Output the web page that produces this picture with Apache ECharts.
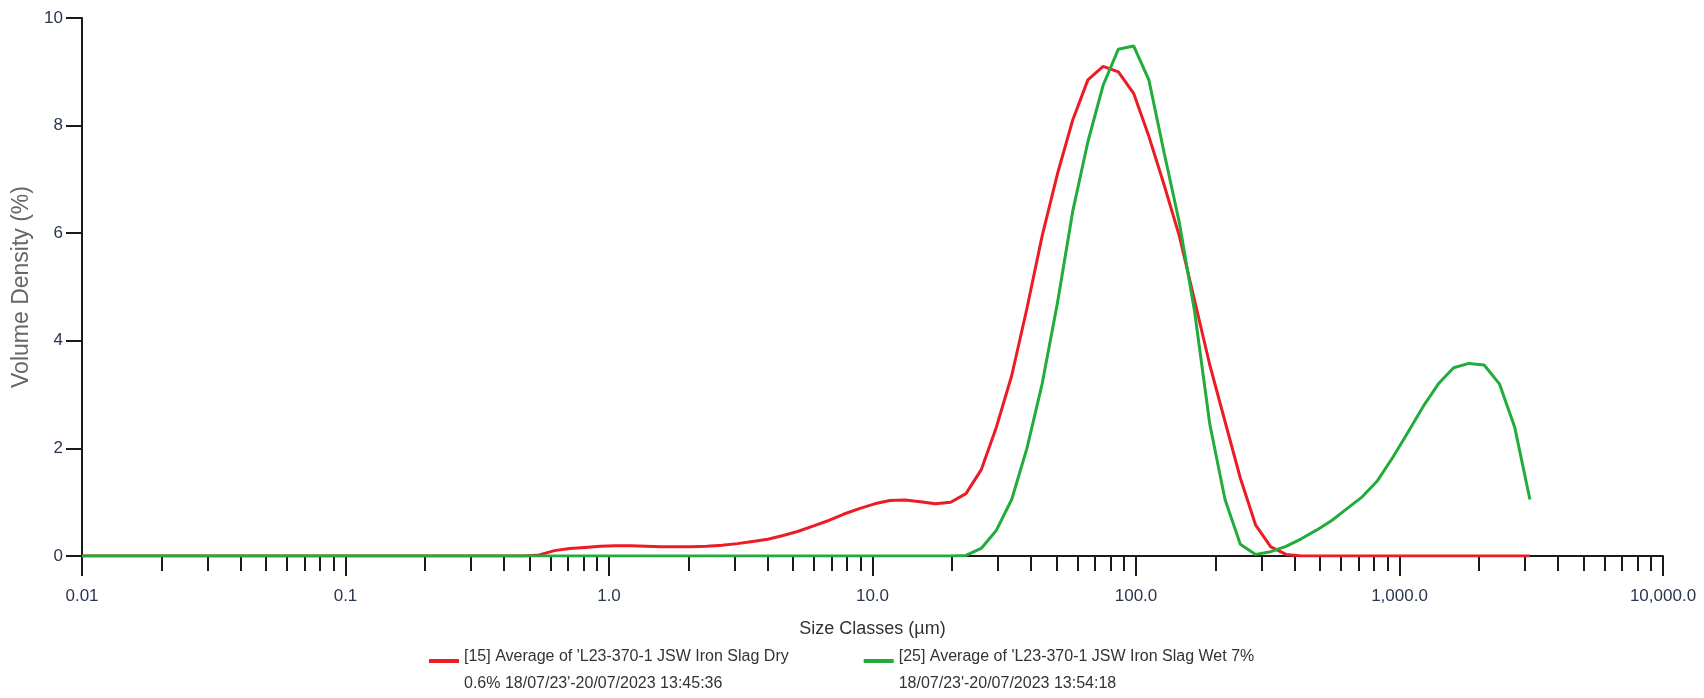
<!DOCTYPE html>
<html>
<head>
<meta charset="utf-8">
<script src="https://cdn.jsdelivr.net/npm/echarts@6/dist/echarts.min.js"></script>
<style>
  html, body { margin: 0; padding: 0; background: #fff; }
  #chart { width: 1704px; height: 698px; }
</style>
</head>
<body>
<div id="chart"></div>
<script>
// size classes (µm)
const sizeClasses = [
  0.01, 0.01143, 0.01306, 0.01492, 0.01704, 0.01947, 0.02224, 0.02541, 0.02903, 0.03317,
  0.03789, 0.04329, 0.04945, 0.0565, 0.06454, 0.07374, 0.08424, 0.09624, 0.11, 0.1256,
  0.1435, 0.1639, 0.1873, 0.214, 0.2445, 0.2793, 0.3191, 0.3645, 0.4164, 0.4758,
  0.5435, 0.621, 0.7095, 0.8105, 0.926, 1.058, 1.209, 1.381, 1.578, 1.802,
  2.059, 2.352, 2.687, 3.07, 3.508, 4.007, 4.578, 5.23, 5.975, 6.826,
  7.799, 8.91, 10.18, 11.63, 13.28, 15.17, 17.34, 19.81, 22.63, 25.85,
  29.54, 33.74, 38.55, 44.04, 50.32, 57.49, 65.68, 75.04, 85.73, 97.94,
  111.9, 127.8, 146.0, 166.8, 190.6, 217.7, 248.8, 284.2, 324.7, 371.0,
  423.8, 484.2, 553.2, 632.0, 722.0, 824.9, 942.5, 1077, 1230, 1405,
  1605, 1834, 2095, 2394, 2735, 3125
]

// volume density (%)
const dryValues = [
  0, 0, 0, 0, 0, 0, 0, 0, 0, 0,
  0, 0, 0, 0, 0, 0, 0, 0, 0, 0,
  0, 0, 0, 0, 0, 0, 0, 0, 0, 0,
  0.02, 0.1, 0.14, 0.16, 0.18, 0.19, 0.19, 0.18, 0.17, 0.17,
  0.17, 0.18, 0.2, 0.23, 0.27, 0.31, 0.38, 0.46, 0.56, 0.66,
  0.78, 0.88, 0.97, 1.03, 1.04, 1.01, 0.97, 1.0, 1.16, 1.6,
  2.4, 3.35, 4.6, 5.95, 7.1, 8.1, 8.85, 9.1, 9.0, 8.6,
  7.8, 6.9, 5.95, 4.75, 3.55, 2.5, 1.45, 0.58, 0.17, 0.03,
  0, 0, 0, 0, 0, 0, 0, 0, 0, 0,
  0, 0, 0, 0, 0, 0
]

const wetValues = [
  0, 0, 0, 0, 0, 0, 0, 0, 0, 0,
  0, 0, 0, 0, 0, 0, 0, 0, 0, 0,
  0, 0, 0, 0, 0, 0, 0, 0, 0, 0,
  0, 0, 0, 0, 0, 0, 0, 0, 0, 0,
  0, 0, 0, 0, 0, 0, 0, 0, 0, 0,
  0, 0, 0, 0, 0, 0, 0, 0, 0.01, 0.14,
  0.48, 1.05, 2.0, 3.2, 4.7, 6.4, 7.7, 8.75, 9.42, 9.48,
  8.85, 7.5, 6.2, 4.55, 2.45, 1.05, 0.22, 0.03, 0.08, 0.18,
  0.32, 0.48, 0.66, 0.88, 1.1, 1.4, 1.83, 2.3, 2.78, 3.2,
  3.5, 3.58, 3.55, 3.2, 2.4, 1.05
]

const seriesNames = [
  "[15] Average of 'L23-370-1 JSW Iron Slag Dry\n0.6% 18/07/23'-20/07/2023 13:45:36",
  "[25] Average of 'L23-370-1 JSW Iron Slag Wet 7%\n18/07/23'-20/07/2023 13:54:18",
]
const seriesColors = ['#ec1c24', '#22ac3c']

const xTickValues = [0.01, 0.1, 1, 10, 100, 1000, 10000]
const xTickLabels = ['0.01', '0.1', '1.0', '10.0', '100.0', '1,000.0', '10,000.0']
const minorSteps  = [2, 3, 4, 5, 6, 7, 8, 9]

const minorTickValues = []
xTickValues.slice(0, -1).forEach((d) => minorSteps.forEach((m) => minorTickValues.push(d * m)))

const FONT = "'Liberation Sans', Arial, sans-serif"
const AXIS_COLOR = '#1a1a1a'

function pairs(values) {
  return sizeClasses.map((s, i) => [s, values[i]])
}

const chart = echarts.init(document.getElementById('chart'), null, { renderer: 'canvas' })

chart.setOption({
  animation: false,
  backgroundColor: '#fff',
  grid: { left: 82, right: 41, top: 18, bottom: 142 },
  legend: {
    left: 424,
    top: 644,
    itemWidth: 30,
    itemHeight: 4,
    itemGap: 75,
    icon: 'rect',
    // first line sits close to the swatch, second line hangs below
    formatter: (name) => {
      const [l1, l2] = name.split('\n')
      return `{a|${l1}}\n{b|${l2}}`
    },
    textStyle: {
      fontFamily: FONT,
      fontSize: 16,
      color: '#333',
      rich: {
        a: { fontFamily: FONT, fontSize: 16, color: '#333', lineHeight: 46 },
        b: { fontFamily: FONT, fontSize: 16, color: '#333', lineHeight: 8 },
      },
    },
    data: seriesNames.map((n, i) => ({ name: n, itemStyle: { color: seriesColors[i] } })),
  },
  xAxis: [{
    type: 'log',
    logBase: 10,
    min: 0.01,
    max: 10000,
    name: 'Size Classes (µm)',
    nameLocation: 'middle',
    nameGap: 64,
    nameTextStyle: { fontFamily: FONT, fontSize: 18, color: '#333' },
    axisLine: { onZero: false, lineStyle: { color: AXIS_COLOR, width: 2 } },
    axisTick: { length: 20, lineStyle: { color: AXIS_COLOR, width: 2 } },
    axisLabel: {
      margin: 32,
      fontFamily: FONT,
      fontSize: 17,
      color: '#2a3550',
      formatter: (v) => xTickLabels[Math.round(Math.log10(v)) + 2] ?? '',
    },
    splitLine: { show: false },
  }, {
    type: 'log',
    logBase: 10,
    min: 0.01,
    max: 10000,
    position: 'bottom',
    offset: 0,
    axisLine: { show: false },
    axisTick: { length: 15, customValues: minorTickValues, lineStyle: { color: AXIS_COLOR, width: 2 } },
    axisLabel: { show: false },
    splitLine: { show: false },
  }],
  yAxis: {
    type: 'value',
    min: 0,
    max: 10,
    interval: 2,
    name: 'Volume Density (%)',
    nameLocation: 'middle',
    nameGap: 47,
    nameTextStyle: { fontFamily: FONT, fontSize: 23, color: '#666' },
    axisLine: { show: true, lineStyle: { color: AXIS_COLOR, width: 2 } },
    axisTick: { show: true, length: 16, lineStyle: { color: AXIS_COLOR, width: 2 } },
    axisLabel: { margin: 19, fontFamily: FONT, fontSize: 17, color: '#2a3550' },
    splitLine: { show: false },
  },
  series: seriesNames.map((name, i) => ({
    name,
    type: 'line',
    xAxisIndex: 0,
    data: pairs(i === 0 ? dryValues : wetValues),
    showSymbol: false,
    lineStyle: { color: seriesColors[i], width: 3 },
    itemStyle: { color: seriesColors[i] },
    z: 3 + i,
  })),
})
</script>
</body>
</html>
